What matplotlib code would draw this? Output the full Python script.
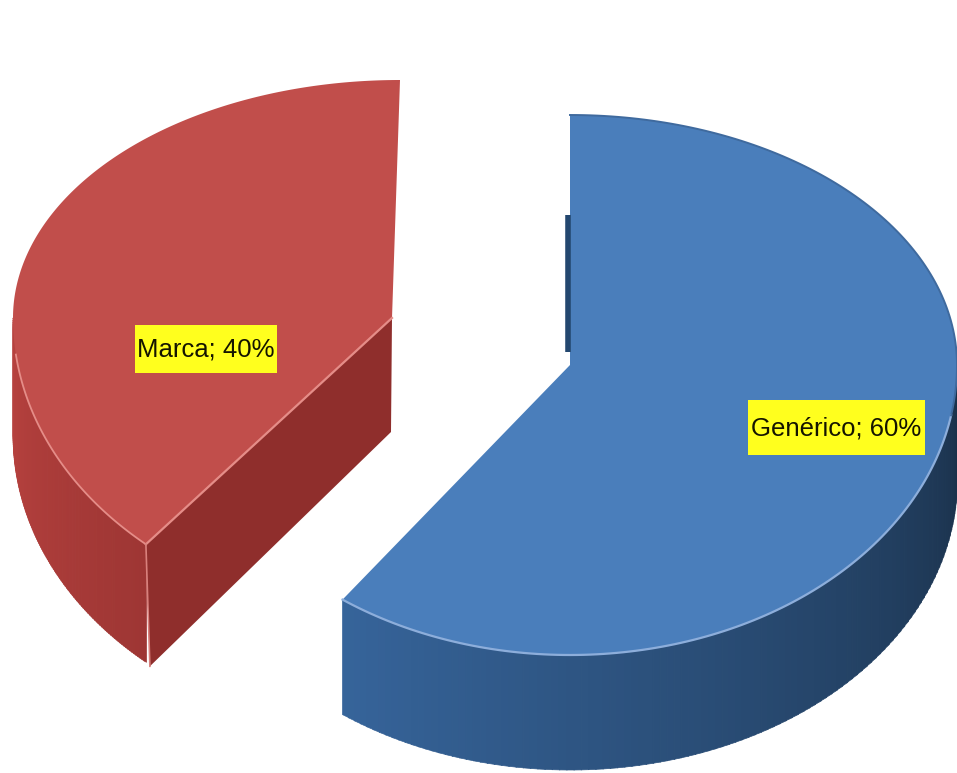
import numpy as np
import matplotlib
matplotlib.use('Agg')
import matplotlib.pyplot as plt
from matplotlib.collections import PolyCollection
from matplotlib.colors import to_rgb
from matplotlib.patches import Polygon, Rectangle

# data
labels = ['Generico', 'Marca']
label_text = ['Genérico; 60%', 'Marca; 40%']
shares = [60, 40]

plt.rcParams['font.family'] = ['Liberation Sans', 'DejaVu Sans']

# geometry of the exploded slices, in image pixels
blue = dict(apex=(570, 365), cx=570, cy=365, a=387, up=250, down=290, depth=115)
red = dict(apex=(392, 318), cx=400, cy=318, a=387, up=238, down=300, depth=118)
# perspective squeezes the apparent sweep of the front slice a little
red_squeeze = 0.965


def rim(s, theta_deg, shift=0):
    t = np.radians(theta_deg)
    c = np.cos(t)
    x = s['cx'] + s['a'] * np.sin(t)
    y = s['cy'] - np.where(c > 0, s['up'], s['down']) * c + shift
    return x, y


def mix(c1, c2, f):
    return tuple((1 - f) * a + f * b for a, b in zip(to_rgb(c1), to_rgb(c2)))


def side(ax, s, t0, t1, c0, c1):
    th = np.linspace(t0, t1, 120)
    x, y = rim(s, th)
    x2, y2 = rim(s, th, s['depth'])
    quads, cols = [], []
    for i in range(len(th) - 1):
        quads.append([(x[i], y[i]), (x[i + 1] + 0.6, y[i + 1]),
                      (x2[i + 1] + 0.6, y2[i + 1]), (x2[i], y2[i])])
        cols.append(mix(c0, c1, i / (len(th) - 2)))
    ax.add_collection(PolyCollection(quads, facecolors=cols, edgecolors=cols, linewidths=0.5))


def top(ax, s, t0, t1, color):
    th = np.linspace(t0, t1, 240)
    x, y = rim(s, th)
    pts = np.column_stack([np.r_[s['apex'][0], x], np.r_[s['apex'][1], y]])
    ax.add_patch(Polygon(pts, closed=True, facecolor=color, edgecolor='none'))


fig = plt.figure(figsize=(9.57, 7.73), dpi=100)
ax = fig.add_axes([0, 0, 1, 1])
ax.set_xlim(0, 957)
ax.set_ylim(773, 0)
ax.axis('off')

blue_end = shares[0] * 3.6
red_start = -shares[1] * 3.6 * red_squeeze

# blue slice, clockwise from 12 o'clock
side(ax, blue, blue_end, 88, '#36649A', '#1A3049')
ax.plot([568, 568], [215, 352], color='#23476F', lw=4, solid_capstyle='butt')
top(ax, blue, 0, blue_end, '#4A7EBB')
th = np.linspace(100, blue_end, 120)
ax.plot(*rim(blue, th), color='#8DAEDB', lw=1.6)
th = np.linspace(0, 100, 100)
ax.plot(*rim(blue, th), color='#3F6A9E', lw=1.4)

# red slice, counter clockwise from 12 o'clock
x_f, y_f = rim(red, red_start)
inner = [red['apex'], (x_f, y_f), (x_f + 4, y_f + red['depth'] + 4),
         (red['apex'][0] - 1, red['apex'][1] + red['depth'] - 4)]
side(ax, red, -90, red_start, '#B8423F', '#9E3634')
ax.add_patch(Polygon(inner, closed=True, facecolor='#8F2E2C', edgecolor='none'))
top(ax, red, red_start, 0, '#C14E4B')
th = np.linspace(-97, red_start, 80)
ax.plot(*rim(red, th), color='#E58D88', lw=1.3)
ax.plot([red['apex'][0], x_f], [red['apex'][1], y_f], color='#E58D88', lw=1.6)
ax.plot([x_f, x_f + 4], [y_f, y_f + red['depth'] + 4], color='#D9807C', lw=1.2)

# data labels
boxes = [(748, 400, 177, 55), (135, 325, 142, 48)]
for txt, (bx, by, bw, bh) in zip(label_text, boxes):
    ax.add_patch(Rectangle((bx, by), bw, bh, facecolor='#FFFF1E', edgecolor='none', zorder=5))
    ax.text(bx + bw / 2, by + bh / 2 + 1, txt, ha='center', va='center', fontsize=18.5,
            color='#141400', zorder=6)

fig.savefig('out.png', dpi=100)
